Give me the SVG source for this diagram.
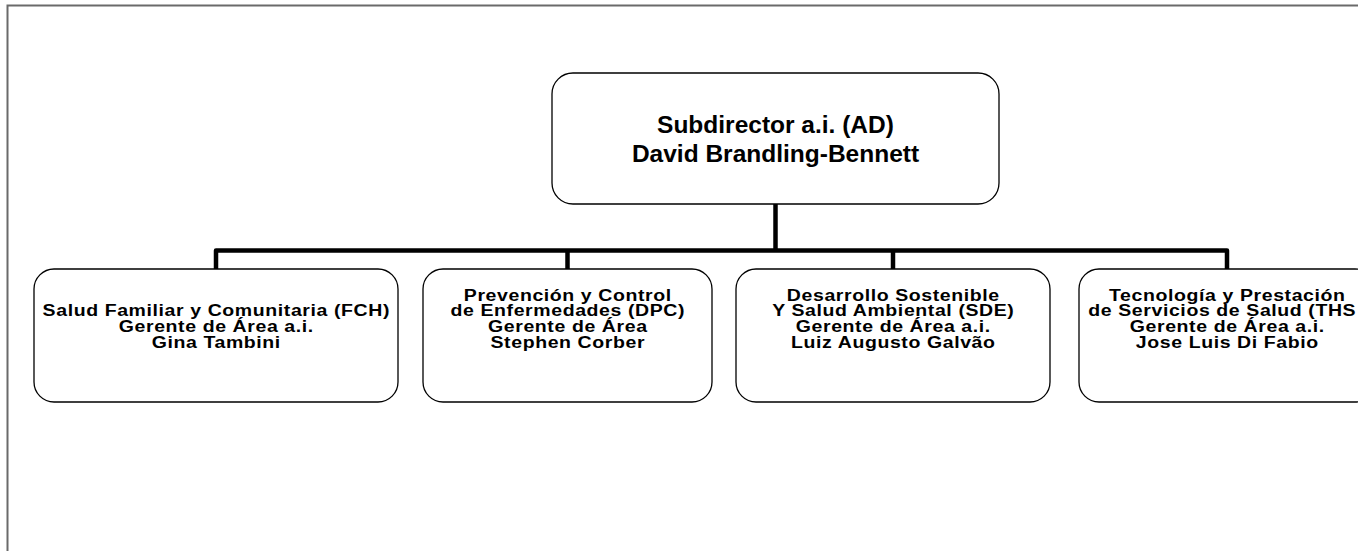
<svg xmlns="http://www.w3.org/2000/svg" width="1358" height="551" viewBox="0 0 1358 551">
<style>
.box{fill:#fff;stroke:#000;stroke-width:1.3}
.t{font-family:"Liberation Sans",Arial,sans-serif;font-weight:bold;fill:#000;text-anchor:middle}
.c{font-size:19.5px;letter-spacing:0.6px}
.h{font-size:24.5px}
.con{fill:none;stroke:#000;stroke-width:4.5;stroke-linejoin:round}
</style>
<rect width="1358" height="551" fill="#fff"/>
<path d="M7.5 551 V5.5 H1358" fill="none" stroke="#6a6a6a" stroke-width="2"/>
<g id="connectors">
<path class="con" d="M775.5 204 V250.5"/>
<path class="con" d="M216 269 V250.5 H1227 V269"/>
<path class="con" d="M567.5 250.5 V269"/>
<path class="con" d="M893 250.5 V269"/>
</g>
<g id="ad">
<rect class="box" x="552" y="73" width="447" height="131" rx="21"/>
<text class="t h" x="775.5" y="132.5">Subdirector a.i. (AD)</text>
<text class="t h" x="775.5" y="161.5">David Brandling-Bennett</text>
</g>
<g id="fch">
<rect class="box" x="34" y="269" width="364" height="133" rx="20"/>
<g transform="translate(216.3 316) scale(1 0.83)">
<text class="t c" x="0" y="0">Salud Familiar y Comunitaria (FCH)</text>
<text class="t c" x="0" y="19.04">Gerente de Área a.i.</text>
<text class="t c" x="0" y="38.08">Gina Tambini</text>
</g>
</g>
<g id="dpc">
<rect class="box" x="423" y="269" width="289" height="133" rx="20"/>
<g transform="translate(567.8 300.5) scale(1 0.83)">
<text class="t c" x="0" y="0">Prevención y Control</text>
<text class="t c" x="0" y="19.04">de Enfermedades (DPC)</text>
<text class="t c" x="0" y="38.08">Gerente de Área</text>
<text class="t c" x="0" y="57.12">Stephen Corber</text>
</g>
</g>
<g id="sde">
<rect class="box" x="736" y="269" width="314" height="133" rx="20"/>
<g transform="translate(893.3 300.5) scale(1 0.83)">
<text class="t c" x="0" y="0">Desarrollo Sostenible</text>
<text class="t c" x="0" y="19.04">Y Salud Ambiental (SDE)</text>
<text class="t c" x="0" y="38.08">Gerente de Área a.i.</text>
<text class="t c" x="0" y="57.12">Luiz Augusto Galvão</text>
</g>
</g>
<g id="ths">
<rect class="box" x="1079" y="269" width="296" height="133" rx="20"/>
<g transform="translate(1227.3 300.5) scale(1 0.83)">
<text class="t c" x="0" y="0">Tecnología y Prestación</text>
<text class="t c" x="-139" y="19.04" style="text-anchor:start">de Servicios de Salud (THS</text>
<text class="t c" x="0" y="38.08">Gerente de Área a.i.</text>
<text class="t c" x="0" y="57.12">Jose Luis Di Fabio</text>
</g>
</g>
</svg>
